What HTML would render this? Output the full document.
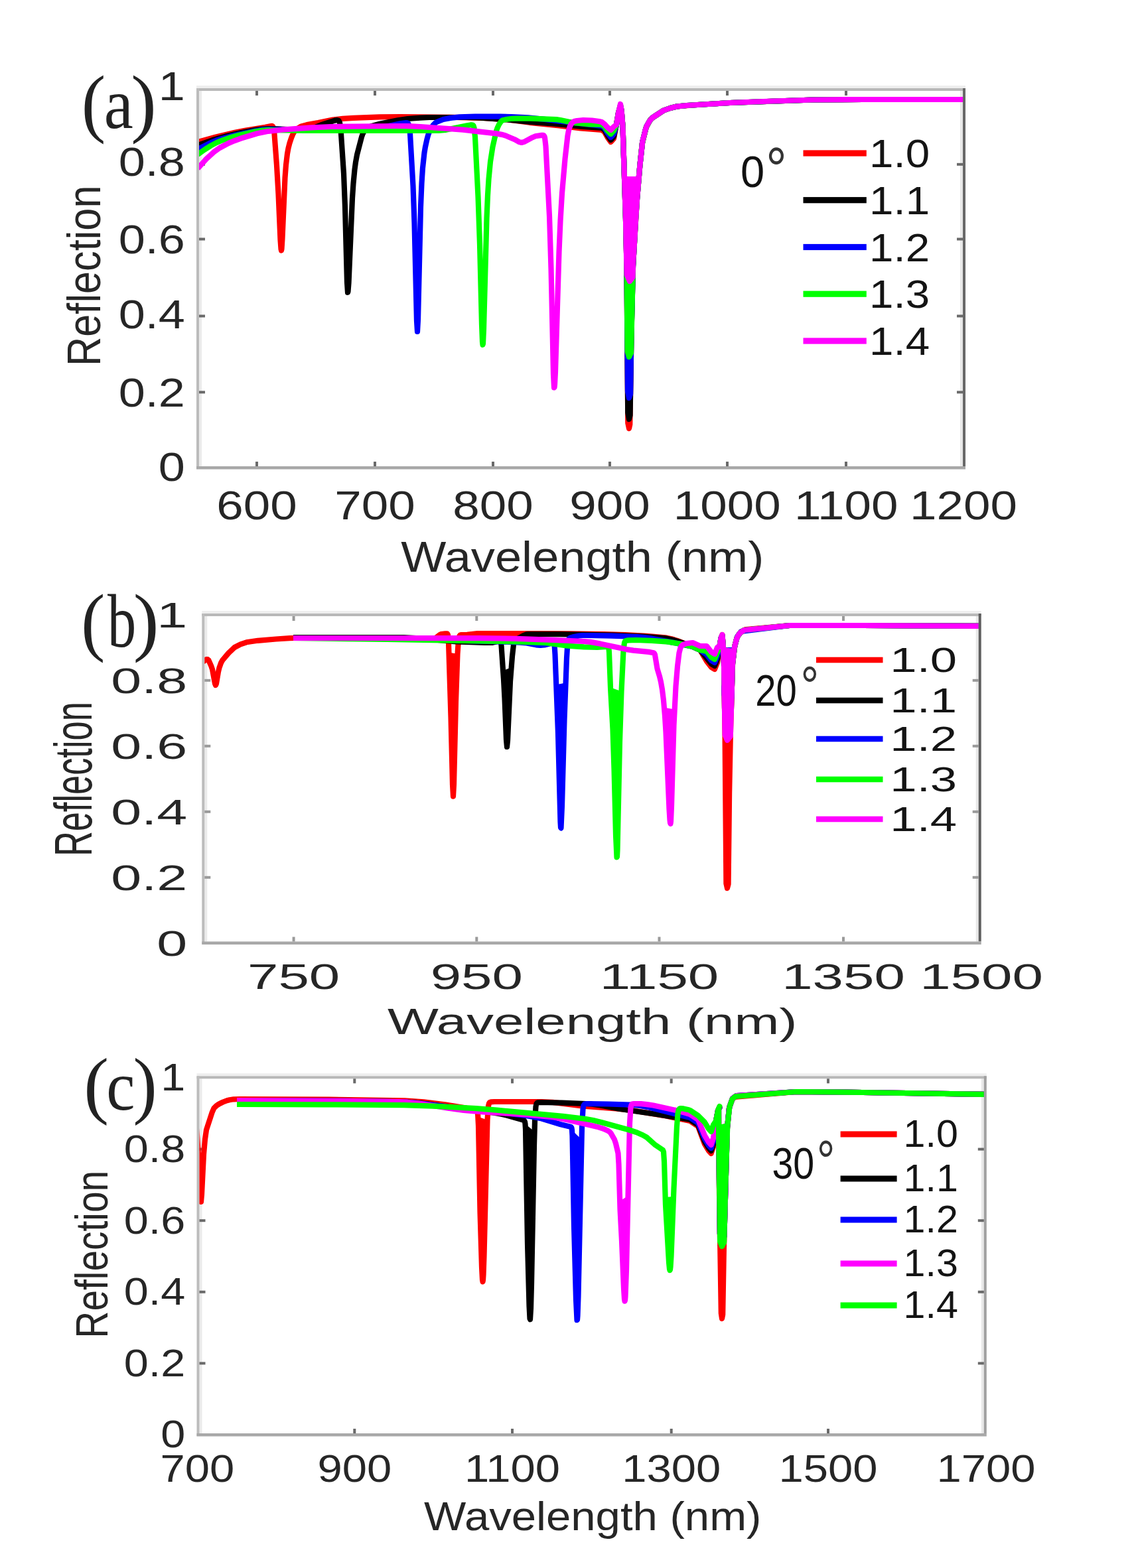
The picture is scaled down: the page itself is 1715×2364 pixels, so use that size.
<!DOCTYPE html>
<html><head><meta charset="utf-8"><title>Reflection spectra</title>
<style>html,body{margin:0;padding:0;background:#fff;overflow:hidden}svg{display:block}</style>
</head><body>
<svg width="1715" height="2364" viewBox="0 0 1715 2364">
<defs><clipPath id="cA"><rect x="300" y="137" width="1151" height="566"/></clipPath><clipPath id="cB"><rect x="308.3" y="929" width="1166.4" height="490.5"/></clipPath><clipPath id="cC"><rect x="300.5" y="1626.3" width="1182.3" height="534.7"/></clipPath></defs>
<rect width="1715" height="2364" fill="#ffffff"/>
<rect x="296" y="129" width="1159" height="4" fill="#eeeeee"/>
<rect x="300" y="137" width="4" height="566" fill="#ebebeb"/>
<rect x="1447" y="137" width="4" height="566" fill="#e8e8e8"/>
<rect x="296" y="133" width="1159" height="4" fill="#b8b8b8"/>
<rect x="296" y="133" width="4" height="574" fill="#bcbcbc"/>
<rect x="1451" y="133" width="4" height="570" fill="#686868"/>
<rect x="296" y="703" width="1159" height="4.5" fill="#a8a8a8"/>
<rect x="385.0" y="137" width="4" height="7" fill="#6a6a6a"/>
<rect x="385.0" y="696" width="4" height="7" fill="#6a6a6a"/>
<rect x="563.0" y="137" width="4" height="7" fill="#6a6a6a"/>
<rect x="563.0" y="696" width="4" height="7" fill="#6a6a6a"/>
<rect x="741.0" y="137" width="4" height="7" fill="#6a6a6a"/>
<rect x="741.0" y="696" width="4" height="7" fill="#6a6a6a"/>
<rect x="917.0" y="137" width="4" height="7" fill="#6a6a6a"/>
<rect x="917.0" y="696" width="4" height="7" fill="#6a6a6a"/>
<rect x="1094.0" y="137" width="4" height="7" fill="#6a6a6a"/>
<rect x="1094.0" y="696" width="4" height="7" fill="#6a6a6a"/>
<rect x="1273.0" y="137" width="4" height="7" fill="#6a6a6a"/>
<rect x="1273.0" y="696" width="4" height="7" fill="#6a6a6a"/>
<rect x="300" y="589.3" width="9" height="4" fill="#6a6a6a"/>
<rect x="1442" y="589.3" width="9" height="4" fill="#6a6a6a"/>
<rect x="300" y="474.5" width="9" height="4" fill="#6a6a6a"/>
<rect x="1442" y="474.5" width="9" height="4" fill="#6a6a6a"/>
<rect x="300" y="358.5" width="9" height="4" fill="#6a6a6a"/>
<rect x="1442" y="358.5" width="9" height="4" fill="#6a6a6a"/>
<rect x="300" y="245.8" width="9" height="4" fill="#6a6a6a"/>
<rect x="1442" y="245.8" width="9" height="4" fill="#6a6a6a"/>
<polyline points="298.0,214.0 325.5,206.4 355.0,199.6 370.5,196.5 399.5,191.8 408.5,190.0 410.0,189.9 411.0,190.4 412.5,194.5 413.5,202.0 417.0,249.2 419.5,292.4 422.5,361.6 423.5,375.5 424.0,377.5 424.5,375.3 425.5,359.4 429.5,268.1 431.0,248.4 433.0,231.7 434.5,223.5 436.5,215.6 439.0,208.1 441.5,202.0 443.5,198.6 445.5,196.3 450.0,192.7 454.0,190.4 462.5,188.1 479.5,185.1 501.5,180.5 516.5,178.9 533.0,177.9 572.0,176.4 603.0,176.0 685.5,176.8 728.5,178.0 765.5,180.5 798.0,184.8 840.5,189.1 875.0,193.5 907.0,196.0 911.0,199.0 915.5,207.0 920.5,214.0 925.0,209.0 932.0,170.0 935.0,160.0 936.5,166.0 938.5,190.0 943.0,330.0 944.5,402.0 946.3,638.0 948.0,646.0 949.3,640.0 951.5,500.0 954.0,400.0 960.0,300.0 964.5,248.0 967.9,216.0 973.8,192.0 980.4,180.0 985.6,176.0 1000.0,166.5 1010.0,163.0 1020.0,160.5 1050.0,158.0 1100.0,155.0 1225.0,150.5 1300.0,150.0 1458.0,150.0" fill="none" stroke="#ff0000" stroke-width="8.2" stroke-linejoin="round" stroke-linecap="butt" clip-path="url(#cA)"/>
<polygon points="940.9,266.0 943.0,330.0 944.5,402.0 946.3,638.0 948.0,646.0 949.3,640.0 951.5,500.0 954.0,400.0 958.1,328.0 962.7,268.0" fill="#ff0000" clip-path="url(#cA)"/>
<polyline points="298.0,219.0 320.0,211.3 342.5,204.8 360.5,200.5 383.5,196.1 394.5,194.5 403.5,194.0 417.5,194.3 450.0,195.8 462.5,195.8 469.5,194.1 483.5,188.5 504.5,181.6 508.0,181.0 510.5,181.9 512.0,184.8 513.5,194.5 518.0,261.2 520.0,312.1 523.0,425.6 524.0,441.0 524.5,439.5 525.5,426.8 531.0,298.7 532.5,276.5 534.5,255.6 536.0,244.5 538.0,233.4 545.0,206.5 546.5,202.2 548.5,198.4 551.0,195.6 554.5,192.9 559.5,190.2 572.0,186.7 599.5,181.2 614.5,179.0 633.5,177.6 647.0,177.0 703.0,177.0 723.5,177.6 764.5,180.3 799.0,183.9 839.0,186.9 877.5,190.8 907.0,193.0 911.0,196.0 915.5,204.0 920.5,211.0 925.0,206.0 929.0,188.0 932.0,170.0 935.0,160.0 936.5,166.0 938.5,190.0 943.0,330.0 944.5,402.0 946.2,622.0 948.0,632.0 949.6,626.0 951.5,502.0 954.0,402.0 958.0,330.0 960.2,298.0 964.3,250.0 968.2,214.0 973.2,194.0 974.6,190.0 979.2,182.0 982.5,178.0 1000.0,166.5 1010.0,163.0 1020.0,160.5 1035.0,159.0 1100.0,155.0 1225.0,150.5 1300.0,150.0 1458.0,150.0" fill="none" stroke="#000000" stroke-width="8.2" stroke-linejoin="round" stroke-linecap="butt" clip-path="url(#cA)"/>
<polygon points="940.9,266.0 943.0,330.0 944.5,402.0 946.2,622.0 948.0,632.0 949.6,626.0 951.5,502.0 954.0,402.0 958.0,330.0 962.8,266.0" fill="#000000" clip-path="url(#cA)"/>
<polyline points="298.0,225.0 317.5,215.2 326.0,211.7 334.0,209.1 354.5,203.8 385.5,197.2 395.0,195.6 405.0,195.0 456.5,196.0 552.5,195.9 564.5,194.4 603.0,186.3 612.0,185.1 614.0,185.3 615.0,185.8 616.5,189.2 618.0,201.2 622.5,280.2 624.5,336.0 628.0,483.8 629.0,499.9 630.0,481.9 634.0,311.9 635.5,276.3 637.0,253.2 639.5,230.2 641.0,221.3 643.5,209.9 645.5,202.7 648.0,196.0 650.5,191.7 653.5,187.9 656.0,185.4 658.0,184.0 668.0,180.0 679.0,177.9 692.5,176.4 716.0,175.7 753.5,175.5 770.5,176.0 796.0,177.4 820.5,179.8 907.0,190.0 911.0,193.0 915.5,200.5 920.5,207.0 925.0,202.0 929.0,188.0 932.0,170.0 935.0,159.0 936.5,166.0 938.5,190.0 943.0,330.0 944.5,402.0 946.0,590.0 948.0,600.0 950.1,594.0 951.5,498.0 954.0,402.0 958.0,330.0 960.2,298.0 964.3,250.0 968.2,214.0 973.2,194.0 974.6,190.0 979.2,182.0 982.5,178.0 1000.0,166.5 1010.0,163.0 1020.0,160.5 1035.0,159.0 1100.0,155.0 1225.0,150.5 1300.0,150.0 1458.0,150.0" fill="none" stroke="#0000ff" stroke-width="8.2" stroke-linejoin="round" stroke-linecap="butt" clip-path="url(#cA)"/>
<polygon points="940.9,266.0 943.0,330.0 944.5,402.0 946.0,590.0 948.0,600.0 950.1,594.0 951.5,498.0 954.1,398.0 958.0,330.0 962.8,266.0" fill="#0000ff" clip-path="url(#cA)"/>
<polyline points="298.0,233.0 308.5,225.5 318.0,219.5 326.5,215.0 335.5,211.3 347.5,207.2 360.0,203.8 384.5,198.3 396.0,196.5 405.0,196.0 458.0,197.0 661.0,197.0 672.0,195.8 704.0,189.2 710.0,188.2 712.5,188.5 713.5,189.6 714.5,192.7 716.0,206.6 720.5,296.7 723.0,368.4 726.0,489.4 727.0,515.3 727.5,519.8 728.0,517.9 729.0,496.1 733.5,328.9 735.0,294.5 736.5,270.2 739.0,243.8 742.5,221.4 747.5,199.1 749.5,193.0 752.0,187.7 755.0,183.2 757.5,181.2 764.5,179.8 772.0,178.8 779.5,178.5 800.0,178.7 838.5,180.1 844.5,181.0 863.5,184.9 888.5,187.3 907.0,188.0 911.0,191.0 915.5,197.0 920.5,202.0 925.0,197.0 929.0,188.0 932.0,170.0 935.0,158.0 936.5,166.0 938.5,190.0 943.0,330.0 944.5,398.0 945.6,530.0 948.0,538.0 951.0,532.0 954.0,400.0 960.0,300.0 964.5,248.0 967.9,216.0 973.8,192.0 980.4,180.0 985.6,176.0 1000.0,166.5 1010.0,163.0 1020.0,160.5 1035.0,159.0 1100.0,155.0 1225.0,150.5 1300.0,150.0 1458.0,150.0" fill="none" stroke="#00ff00" stroke-width="8.2" stroke-linejoin="round" stroke-linecap="butt" clip-path="url(#cA)"/>
<polygon points="940.9,266.0 943.0,330.0 944.5,398.0 945.6,530.0 948.0,538.0 951.0,532.0 954.0,400.0 958.1,328.0 962.7,268.0" fill="#00ff00" clip-path="url(#cA)"/>
<polyline points="298.0,254.0 311.0,239.6 322.0,229.4 331.0,223.0 344.5,215.9 353.0,212.3 362.5,208.8 387.5,201.3 402.0,198.3 424.5,195.7 469.5,192.4 498.5,191.0 598.0,190.0 615.0,190.2 633.5,191.0 697.5,195.6 748.0,201.4 757.5,203.1 762.0,204.5 775.5,210.2 782.5,214.1 786.0,215.0 790.0,213.9 802.5,207.2 807.0,205.3 816.5,203.9 818.5,203.9 819.5,204.3 820.5,205.8 821.0,207.5 822.5,220.2 828.0,325.6 830.5,404.9 834.0,564.3 835.0,584.4 835.5,584.1 836.0,579.6 837.0,560.2 842.5,379.7 844.5,333.0 847.0,291.4 851.5,239.8 855.5,204.4 857.0,196.6 858.5,191.6 860.5,187.4 863.5,183.9 865.0,183.1 869.5,182.0 879.0,181.0 892.0,181.5 903.0,183.0 907.0,184.0 911.0,187.0 915.5,192.0 920.5,196.0 925.0,191.0 929.0,188.0 932.0,170.0 935.0,157.0 936.5,166.0 938.5,190.0 943.0,330.0 944.6,414.0 949.0,424.0 953.5,418.0 954.1,398.0 959.9,302.0 964.3,250.0 968.2,214.0 973.2,194.0 974.6,190.0 979.2,182.0 982.5,178.0 1000.0,166.5 1010.0,163.0 1020.0,160.5 1035.0,159.0 1100.0,155.0 1150.0,153.0 1225.0,150.5 1300.0,150.0 1458.0,150.0" fill="none" stroke="#ff00ff" stroke-width="8.2" stroke-linejoin="round" stroke-linecap="butt" clip-path="url(#cA)"/>
<polygon points="940.9,266.0 943.0,330.0 944.6,414.0 949.0,424.0 953.5,418.0 954.1,398.0 958.0,330.0 962.8,266.0" fill="#ff00ff" clip-path="url(#cA)"/>
<text transform="matrix(1.09515 0 0 1.13609 122.75 192.66)" style="font-family:&quot;Liberation Serif&quot;,serif" font-size="100" fill="#222">(</text>
<text transform="matrix(0.99241 0 0 1.08333 156.73 192.92)" style="font-family:&quot;Liberation Serif&quot;,serif" font-size="100" fill="#222">a</text>
<text transform="matrix(1.15728 0 0 1.13609 197.24 192.66)" style="font-family:&quot;Liberation Serif&quot;,serif" font-size="100" fill="#222">)</text>
<text transform="matrix(0.72000 0 0 0.60700 278.90 725.18)" style="font-family:&quot;Liberation Sans&quot;,sans-serif" font-size="100" fill="#262626" text-anchor="end">0</text>
<text transform="matrix(0.72000 0 0 0.60700 278.90 612.68)" style="font-family:&quot;Liberation Sans&quot;,sans-serif" font-size="100" fill="#262626" text-anchor="end">0.2</text>
<text transform="matrix(0.72000 0 0 0.60700 278.90 494.88)" style="font-family:&quot;Liberation Sans&quot;,sans-serif" font-size="100" fill="#262626" text-anchor="end">0.4</text>
<text transform="matrix(0.72000 0 0 0.60700 278.90 381.88)" style="font-family:&quot;Liberation Sans&quot;,sans-serif" font-size="100" fill="#262626" text-anchor="end">0.6</text>
<text transform="matrix(0.72000 0 0 0.60700 278.90 264.88)" style="font-family:&quot;Liberation Sans&quot;,sans-serif" font-size="100" fill="#262626" text-anchor="end">0.8</text>
<text transform="matrix(0.72000 0 0 0.60700 278.90 150.88)" style="font-family:&quot;Liberation Sans&quot;,sans-serif" font-size="100" fill="#262626" text-anchor="end">1</text>
<text transform="matrix(0.72800 0 0 0.60700 387.00 782.88)" style="font-family:&quot;Liberation Sans&quot;,sans-serif" font-size="100" fill="#262626" text-anchor="middle">600</text>
<text transform="matrix(0.72800 0 0 0.60700 565.00 782.88)" style="font-family:&quot;Liberation Sans&quot;,sans-serif" font-size="100" fill="#262626" text-anchor="middle">700</text>
<text transform="matrix(0.72800 0 0 0.60700 743.00 782.88)" style="font-family:&quot;Liberation Sans&quot;,sans-serif" font-size="100" fill="#262626" text-anchor="middle">800</text>
<text transform="matrix(0.72800 0 0 0.60700 919.00 782.88)" style="font-family:&quot;Liberation Sans&quot;,sans-serif" font-size="100" fill="#262626" text-anchor="middle">900</text>
<text transform="matrix(0.72800 0 0 0.60700 1095.70 782.88)" style="font-family:&quot;Liberation Sans&quot;,sans-serif" font-size="100" fill="#262626" text-anchor="middle">1000</text>
<text transform="matrix(0.72800 0 0 0.60700 1275.30 782.88)" style="font-family:&quot;Liberation Sans&quot;,sans-serif" font-size="100" fill="#262626" text-anchor="middle">1100</text>
<text transform="matrix(0.72800 0 0 0.60700 1452.00 782.88)" style="font-family:&quot;Liberation Sans&quot;,sans-serif" font-size="100" fill="#262626" text-anchor="middle">1200</text>
<text transform="matrix(0 -0.61279 0.71020 0 150.89 551.96)" style="font-family:&quot;Liberation Sans&quot;,sans-serif" font-size="100" fill="#262626">Reflection</text>
<text transform="matrix(0.72200 0 0 0.64236 604.24 862.37)" style="font-family:&quot;Liberation Sans&quot;,sans-serif" font-size="100" fill="#262626">Wavelength (nm)</text>
<text transform="matrix(0.65131 0 0 0.65724 1115.89 282.34)" style="font-family:&quot;Liberation Sans&quot;,sans-serif" font-size="100" fill="#111">0</text>
<text transform="matrix(0.78571 0 0 0.90090 1154.29 285.84)" style="font-family:&quot;Liberation Sans&quot;,sans-serif" font-size="100" fill="#333">°</text>
<rect x="1210.5" y="226.4" width="95.3" height="9.2" fill="#ff0000"/>
<text transform="matrix(0.65500 0 0 0.60000 1310.09 252.04)" style="font-family:&quot;Liberation Sans&quot;,sans-serif" font-size="100" fill="#141414">1.0</text>
<rect x="1210.5" y="297.1" width="95.3" height="9.2" fill="#000000"/>
<text transform="matrix(0.65500 0 0 0.60000 1310.09 322.79)" style="font-family:&quot;Liberation Sans&quot;,sans-serif" font-size="100" fill="#141414">1.1</text>
<rect x="1210.5" y="367.9" width="95.3" height="9.2" fill="#0000ff"/>
<text transform="matrix(0.65500 0 0 0.60000 1310.09 393.54)" style="font-family:&quot;Liberation Sans&quot;,sans-serif" font-size="100" fill="#141414">1.2</text>
<rect x="1210.5" y="438.6" width="95.3" height="9.2" fill="#00ff00"/>
<text transform="matrix(0.65500 0 0 0.60000 1310.09 464.29)" style="font-family:&quot;Liberation Sans&quot;,sans-serif" font-size="100" fill="#141414">1.3</text>
<rect x="1210.5" y="509.4" width="95.3" height="9.2" fill="#ff00ff"/>
<text transform="matrix(0.65500 0 0 0.60000 1310.09 535.04)" style="font-family:&quot;Liberation Sans&quot;,sans-serif" font-size="100" fill="#141414">1.4</text>
<rect x="304.3" y="921" width="1174.4" height="4" fill="#eeeeee"/>
<rect x="308.3" y="929" width="4" height="490.5" fill="#ebebeb"/>
<rect x="1470.7" y="929" width="4" height="490.5" fill="#e8e8e8"/>
<rect x="304.3" y="925" width="1174.4" height="4" fill="#b8b8b8"/>
<rect x="304.3" y="925" width="4" height="498.5" fill="#bcbcbc"/>
<rect x="1474.7" y="925" width="4" height="494.5" fill="#5e5e5e"/>
<rect x="304.3" y="1419.5" width="1174.4" height="4.5" fill="#a8a8a8"/>
<rect x="440.6" y="929" width="4" height="7" fill="#9a9a9a"/>
<rect x="440.6" y="1412.5" width="4" height="7" fill="#9a9a9a"/>
<rect x="716.3" y="929" width="4" height="7" fill="#9a9a9a"/>
<rect x="716.3" y="1412.5" width="4" height="7" fill="#9a9a9a"/>
<rect x="991.5" y="929" width="4" height="7" fill="#9a9a9a"/>
<rect x="991.5" y="1412.5" width="4" height="7" fill="#9a9a9a"/>
<rect x="1269.0" y="929" width="4" height="7" fill="#9a9a9a"/>
<rect x="1269.0" y="1412.5" width="4" height="7" fill="#9a9a9a"/>
<rect x="308.3" y="1320.8" width="9" height="4" fill="#9a9a9a"/>
<rect x="1465.7" y="1320.8" width="9" height="4" fill="#9a9a9a"/>
<rect x="308.3" y="1221.8" width="9" height="4" fill="#9a9a9a"/>
<rect x="1465.7" y="1221.8" width="9" height="4" fill="#9a9a9a"/>
<rect x="308.3" y="1122.8" width="9" height="4" fill="#9a9a9a"/>
<rect x="1465.7" y="1122.8" width="9" height="4" fill="#9a9a9a"/>
<rect x="308.3" y="1023.8" width="9" height="4" fill="#9a9a9a"/>
<rect x="1465.7" y="1023.8" width="9" height="4" fill="#9a9a9a"/>
<polyline points="306.0,998.0 309.0,995.3 311.0,994.2 313.0,994.2 314.5,995.6 318.5,1004.7 320.0,1009.3 324.0,1030.7 325.0,1033.0 326.0,1030.6 329.0,1012.9 330.5,1006.6 333.0,999.6 335.5,995.1 344.5,984.5 353.5,976.0 362.5,971.3 371.5,968.3 388.5,965.8 416.0,963.5 436.5,962.2 463.0,961.5 505.0,961.0 587.5,962.0 655.0,962.0 657.5,961.1 662.5,957.1 664.5,956.1 671.0,955.3 674.0,955.3 675.0,957.0 676.0,968.8 679.5,1080.9 682.0,1183.1 683.0,1200.6 684.0,1182.8 687.0,1058.2 689.5,985.8 691.0,964.5 692.0,959.6 693.5,957.5 695.5,957.0 704.0,956.8 719.5,955.0 811.5,955.0 860.0,955.4 910.5,956.2 942.5,957.2 974.5,958.9 1002.5,961.3 1012.0,963.2 1022.5,966.5 1044.0,975.0 1055.0,980.0 1065.0,997.0 1072.0,1006.0 1077.0,1009.0 1081.0,999.0 1086.5,962.0 1088.5,957.0 1090.0,976.0 1091.0,1000.0 1092.5,1100.0 1094.4,1332.0 1096.0,1339.0 1097.6,1333.0 1099.1,1197.0 1101.0,1101.0 1104.0,1001.0 1106.8,977.0 1107.5,973.0 1110.7,961.0 1116.2,953.0 1123.8,949.0 1190.0,943.0 1300.0,943.0 1480.0,944.0" fill="none" stroke="#ff0000" stroke-width="8.2" stroke-linejoin="round" stroke-linecap="butt" clip-path="url(#cB)"/>
<polygon points="676.5,983.8 679.5,1080.9 682.0,1183.1 683.0,1200.6 684.0,1182.8 687.0,1058.2 689.5,985.8" fill="#ff0000" clip-path="url(#cB)"/>
<polygon points="1090.0,976.0 1091.0,1000.0 1092.5,1100.0 1094.4,1332.0 1096.0,1339.0 1097.6,1333.0 1099.0,1201.0 1101.1,1097.0 1104.0,1001.0 1106.8,977.0" fill="#ff0000" clip-path="url(#cB)"/>
<polyline points="442.0,961.0 608.5,961.1 631.5,962.4 688.0,967.4 730.0,968.9 741.5,968.9 752.0,966.5 754.0,966.5 755.0,968.9 755.5,973.2 759.0,1024.4 760.5,1052.6 763.0,1115.6 764.0,1126.0 765.0,1116.5 769.0,1027.3 772.0,989.4 774.0,971.6 775.0,967.5 776.0,965.6 777.0,964.7 789.0,958.1 793.5,956.3 796.0,956.0 843.5,956.2 925.5,957.6 970.0,959.6 993.5,961.4 1005.5,962.7 1015.0,964.9 1026.0,968.3 1044.0,975.0 1055.0,980.0 1072.0,1001.0 1077.0,1004.0 1081.0,994.0 1086.5,962.0 1088.5,958.0 1090.0,976.0 1091.0,1000.0 1092.0,1068.0 1096.0,1076.0 1101.9,1070.0 1103.9,1002.0 1107.3,974.0 1110.5,962.0 1112.5,958.0 1115.5,954.0 1121.5,950.0 1190.0,943.0 1300.0,943.0 1480.0,944.0" fill="none" stroke="#000000" stroke-width="8.2" stroke-linejoin="round" stroke-linecap="butt" clip-path="url(#cB)"/>
<polygon points="758.0,1011.0 760.0,1041.9 763.0,1115.6 764.0,1126.0 765.0,1116.5 768.0,1045.5 770.5,1006.6" fill="#000000" clip-path="url(#cB)"/>
<polygon points="1090.0,976.0 1091.0,1000.0 1092.0,1068.0 1096.0,1076.0 1101.9,1070.0 1103.9,1002.0 1106.6,978.0" fill="#000000" clip-path="url(#cB)"/>
<polyline points="442.0,962.0 601.0,962.0 621.0,962.3 697.5,965.9 759.0,967.6 784.0,968.6 793.5,969.4 808.0,972.3 814.5,973.0 820.5,972.4 834.5,969.1 835.5,971.4 836.5,986.7 841.0,1105.1 844.5,1239.2 845.0,1247.6 845.5,1248.4 847.0,1214.5 850.5,1085.2 854.0,992.3 855.0,975.9 856.0,967.5 857.0,963.9 858.0,962.5 859.0,961.8 865.0,960.0 872.5,958.5 878.0,958.0 886.0,958.0 921.5,958.6 959.5,960.0 969.0,960.8 980.0,962.4 1016.5,969.1 1044.0,975.0 1055.0,980.0 1065.0,987.0 1072.0,996.0 1077.0,999.0 1081.0,989.0 1084.5,975.0 1086.5,962.0 1088.5,958.0 1090.0,976.0 1091.0,1000.0 1091.7,1048.0 1096.0,1058.0 1102.4,1052.0 1104.0,1000.0 1106.9,976.0 1111.0,960.0 1117.0,952.0 1190.0,943.0 1300.0,943.0 1480.0,944.0" fill="none" stroke="#0000ff" stroke-width="8.2" stroke-linejoin="round" stroke-linecap="butt" clip-path="url(#cB)"/>
<polygon points="838.0,1032.2 841.0,1105.1 844.5,1239.2 845.0,1247.6 845.5,1248.4 846.5,1230.6 850.0,1100.9 852.5,1029.5" fill="#0000ff" clip-path="url(#cB)"/>
<polygon points="1090.0,976.0 1091.0,1000.0 1091.7,1048.0 1096.0,1058.0 1102.4,1052.0 1104.0,1000.0 1106.9,976.0" fill="#0000ff" clip-path="url(#cB)"/>
<polyline points="442.0,962.0 583.0,963.9 783.0,967.6 823.5,969.2 855.5,973.6 880.0,975.4 900.0,976.0 915.0,975.0 916.5,975.3 917.5,978.2 918.0,983.6 920.0,1036.5 923.5,1099.4 925.5,1159.9 928.0,1258.8 929.5,1292.3 930.0,1291.5 930.5,1281.5 934.0,1117.8 936.5,1042.3 939.5,980.8 941.0,969.2 942.0,966.8 943.0,966.0 946.5,965.4 958.5,965.0 982.5,965.8 1007.0,967.7 1027.0,971.0 1044.0,975.0 1055.0,980.0 1065.0,982.0 1072.0,991.0 1077.0,994.0 1084.5,975.0 1086.5,962.0 1088.5,958.0 1090.0,976.0 1091.0,1000.0 1091.5,1032.0 1096.0,1040.0 1103.0,1034.0 1104.2,998.0 1107.3,974.0 1110.5,962.0 1112.5,958.0 1115.5,954.0 1121.5,950.0 1190.0,943.0 1300.0,943.0 1480.0,944.0" fill="none" stroke="#00ff00" stroke-width="8.2" stroke-linejoin="round" stroke-linecap="butt" clip-path="url(#cB)"/>
<polygon points="920.0,1036.5 922.5,1077.7 924.0,1112.2 928.0,1258.8 929.5,1292.3 930.0,1291.5 930.5,1281.5 934.0,1117.8 936.5,1042.3" fill="#00ff00" clip-path="url(#cB)"/>
<polygon points="1090.0,976.0 1091.0,1000.0 1091.5,1032.0 1096.0,1040.0 1103.0,1034.0 1103.9,1002.0 1106.6,978.0" fill="#00ff00" clip-path="url(#cB)"/>
<polyline points="442.0,962.0 722.0,962.1 777.0,962.9 833.0,964.8 880.0,967.0 889.5,967.9 904.0,970.4 944.5,979.1 954.5,980.6 977.5,982.9 985.0,984.2 986.0,985.0 987.0,987.1 990.5,1008.1 994.0,1019.8 996.0,1028.2 998.0,1039.7 1000.0,1056.0 1002.0,1079.5 1003.5,1103.7 1008.5,1220.1 1009.5,1236.3 1010.0,1240.6 1010.5,1241.9 1011.0,1238.4 1012.0,1214.8 1015.5,1093.5 1018.5,1034.6 1021.0,1004.6 1023.5,984.2 1025.5,976.5 1027.0,973.9 1029.0,972.2 1034.5,970.1 1044.0,969.0 1055.0,974.0 1065.0,974.0 1072.0,983.0 1077.0,986.0 1081.0,976.0 1084.5,975.0 1086.5,962.0 1088.5,957.0 1090.0,976.0 1091.0,1000.0 1092.6,1108.0 1096.0,1116.0 1100.8,1110.0 1103.9,1002.0 1106.6,978.0 1107.3,974.0 1110.5,962.0 1112.5,958.0 1115.5,954.0 1121.5,950.0 1190.0,943.0 1300.0,943.0 1480.0,944.0" fill="none" stroke="#ff00ff" stroke-width="8.2" stroke-linejoin="round" stroke-linecap="butt" clip-path="url(#cB)"/>
<polygon points="1001.0,1066.7 1004.0,1113.2 1008.5,1220.1 1009.5,1236.3 1010.0,1240.6 1010.5,1241.9 1011.0,1238.4 1012.0,1214.8 1014.5,1123.5 1016.5,1069.4" fill="#ff00ff" clip-path="url(#cB)"/>
<polygon points="1090.0,976.0 1091.0,1000.0 1092.6,1108.0 1096.0,1116.0 1100.8,1110.0 1103.9,1002.0 1106.6,978.0" fill="#ff00ff" clip-path="url(#cB)"/>
<text transform="matrix(1.08350 0 0 1.14270 122.30 975.22)" style="font-family:&quot;Liberation Serif&quot;,serif" font-size="100" fill="#222">(</text>
<text transform="matrix(0.86270 0 0 1.14043 162.10 975.06)" style="font-family:&quot;Liberation Serif&quot;,serif" font-size="100" fill="#222">b</text>
<text transform="matrix(1.16505 0 0 1.14270 200.71 975.22)" style="font-family:&quot;Liberation Serif&quot;,serif" font-size="100" fill="#222">)</text>
<text transform="matrix(0.82600 0 0 0.53000 282.10 1441.03)" style="font-family:&quot;Liberation Sans&quot;,sans-serif" font-size="100" fill="#262626" text-anchor="end">0</text>
<text transform="matrix(0.82600 0 0 0.53000 282.10 1342.03)" style="font-family:&quot;Liberation Sans&quot;,sans-serif" font-size="100" fill="#262626" text-anchor="end">0.2</text>
<text transform="matrix(0.82600 0 0 0.53000 282.10 1243.03)" style="font-family:&quot;Liberation Sans&quot;,sans-serif" font-size="100" fill="#262626" text-anchor="end">0.4</text>
<text transform="matrix(0.82600 0 0 0.53000 282.10 1144.03)" style="font-family:&quot;Liberation Sans&quot;,sans-serif" font-size="100" fill="#262626" text-anchor="end">0.6</text>
<text transform="matrix(0.82600 0 0 0.53000 282.10 1045.03)" style="font-family:&quot;Liberation Sans&quot;,sans-serif" font-size="100" fill="#262626" text-anchor="end">0.8</text>
<text transform="matrix(0.82600 0 0 0.53000 282.10 946.03)" style="font-family:&quot;Liberation Sans&quot;,sans-serif" font-size="100" fill="#262626" text-anchor="end">1</text>
<text transform="matrix(0.83500 0 0 0.53700 442.60 1490.97)" style="font-family:&quot;Liberation Sans&quot;,sans-serif" font-size="100" fill="#262626" text-anchor="middle">750</text>
<text transform="matrix(0.83500 0 0 0.53700 718.30 1490.97)" style="font-family:&quot;Liberation Sans&quot;,sans-serif" font-size="100" fill="#262626" text-anchor="middle">950</text>
<text transform="matrix(0.83500 0 0 0.53700 993.50 1490.97)" style="font-family:&quot;Liberation Sans&quot;,sans-serif" font-size="100" fill="#262626" text-anchor="middle">1150</text>
<text transform="matrix(0.83500 0 0 0.53700 1271.00 1490.97)" style="font-family:&quot;Liberation Sans&quot;,sans-serif" font-size="100" fill="#262626" text-anchor="middle">1350</text>
<text transform="matrix(0.83500 0 0 0.53700 1479.00 1490.97)" style="font-family:&quot;Liberation Sans&quot;,sans-serif" font-size="100" fill="#262626" text-anchor="middle">1500</text>
<text transform="matrix(0 -0.52395 0.80272 0 138.20 1291.12)" style="font-family:&quot;Liberation Sans&quot;,sans-serif" font-size="100" fill="#262626">Reflection</text>
<text transform="matrix(0.81531 0 0 0.56300 583.89 1558.82)" style="font-family:&quot;Liberation Sans&quot;,sans-serif" font-size="100" fill="#262626">Wavelength (nm)</text>
<text transform="matrix(0.56235 0 0 0.66431 1138.19 1064.34)" style="font-family:&quot;Liberation Sans&quot;,sans-serif" font-size="100" fill="#111">20</text>
<text transform="matrix(0.69286 0 0 0.83243 1206.44 1062.66)" style="font-family:&quot;Liberation Sans&quot;,sans-serif" font-size="100" fill="#333">°</text>
<rect x="1230" y="990.7" width="100.5" height="8.6" fill="#ff0000"/>
<text transform="matrix(0.72500 0 0 0.52000 1341.36 1013.09)" style="font-family:&quot;Liberation Sans&quot;,sans-serif" font-size="100" fill="#141414">1.0</text>
<rect x="1230" y="1051.7" width="100.5" height="8.6" fill="#000000"/>
<text transform="matrix(0.72500 0 0 0.52000 1341.36 1074.09)" style="font-family:&quot;Liberation Sans&quot;,sans-serif" font-size="100" fill="#141414">1.1</text>
<rect x="1230" y="1109.7" width="100.5" height="8.6" fill="#0000ff"/>
<text transform="matrix(0.72500 0 0 0.52000 1341.36 1132.09)" style="font-family:&quot;Liberation Sans&quot;,sans-serif" font-size="100" fill="#141414">1.2</text>
<rect x="1230" y="1170.7" width="100.5" height="8.6" fill="#00ff00"/>
<text transform="matrix(0.72500 0 0 0.52000 1341.36 1193.09)" style="font-family:&quot;Liberation Sans&quot;,sans-serif" font-size="100" fill="#141414">1.3</text>
<rect x="1230" y="1230.7" width="100.5" height="8.6" fill="#ff00ff"/>
<text transform="matrix(0.72500 0 0 0.52000 1341.36 1253.09)" style="font-family:&quot;Liberation Sans&quot;,sans-serif" font-size="100" fill="#141414">1.4</text>
<rect x="296.5" y="1618.3" width="1190.3" height="4" fill="#eeeeee"/>
<rect x="300.5" y="1626.3" width="4" height="534.7" fill="#ebebeb"/>
<rect x="1478.8" y="1626.3" width="4" height="534.7" fill="#e8e8e8"/>
<rect x="296.5" y="1622.3" width="1190.3" height="4" fill="#b8b8b8"/>
<rect x="296.5" y="1622.3" width="4" height="542.7" fill="#bcbcbc"/>
<rect x="1482.8" y="1622.3" width="4" height="538.7" fill="#a0a0a0"/>
<rect x="296.5" y="2161" width="1190.3" height="4.5" fill="#a8a8a8"/>
<rect x="532.3" y="1626.3" width="4" height="7" fill="#6a6a6a"/>
<rect x="532.3" y="2154" width="4" height="7" fill="#6a6a6a"/>
<rect x="770.0" y="1626.3" width="4" height="7" fill="#6a6a6a"/>
<rect x="770.0" y="2154" width="4" height="7" fill="#6a6a6a"/>
<rect x="1009.7" y="1626.3" width="4" height="7" fill="#6a6a6a"/>
<rect x="1009.7" y="2154" width="4" height="7" fill="#6a6a6a"/>
<rect x="1246.0" y="1626.3" width="4" height="7" fill="#6a6a6a"/>
<rect x="1246.0" y="2154" width="4" height="7" fill="#6a6a6a"/>
<rect x="300.5" y="2053.4" width="9" height="4" fill="#6a6a6a"/>
<rect x="1473.8" y="2053.4" width="9" height="4" fill="#6a6a6a"/>
<rect x="300.5" y="1945.8" width="9" height="4" fill="#6a6a6a"/>
<rect x="1473.8" y="1945.8" width="9" height="4" fill="#6a6a6a"/>
<rect x="300.5" y="1838.2" width="9" height="4" fill="#6a6a6a"/>
<rect x="1473.8" y="1838.2" width="9" height="4" fill="#6a6a6a"/>
<rect x="300.5" y="1730.6" width="9" height="4" fill="#6a6a6a"/>
<rect x="1473.8" y="1730.6" width="9" height="4" fill="#6a6a6a"/>
<polyline points="296.0,1702.0 297.0,1712.0 299.5,1748.8 302.0,1801.1 303.0,1811.9 304.0,1800.9 307.0,1740.2 309.0,1717.6 311.0,1703.6 319.5,1677.4 322.5,1670.6 326.0,1667.2 330.0,1664.5 335.5,1661.8 342.0,1659.2 346.0,1658.2 352.0,1657.3 361.5,1657.0 496.0,1657.6 610.0,1659.3 638.5,1661.4 670.5,1665.3 701.0,1670.2 713.5,1674.0 718.5,1675.1 719.5,1676.1 720.0,1678.1 721.0,1697.2 723.5,1827.9 726.0,1910.3 727.0,1929.6 727.5,1932.4 728.0,1929.8 728.5,1922.0 729.5,1893.5 734.5,1688.4 736.0,1667.6 737.0,1663.6 738.0,1662.1 740.0,1661.3 745.0,1661.0 816.5,1661.0 833.0,1661.9 879.0,1667.6 928.5,1671.4 952.0,1674.0 999.0,1681.6 1040.0,1690.0 1052.0,1698.0 1062.0,1725.0 1068.0,1735.0 1071.7,1739.0 1075.0,1729.0 1079.0,1690.0 1082.0,1674.0 1084.4,1670.0 1083.0,1672.0 1084.0,1800.0 1086.8,1980.0 1088.0,1988.0 1089.2,1982.0 1091.0,1878.0 1095.9,1702.0 1099.0,1670.0 1103.3,1658.0 1106.8,1654.0 1200.0,1646.0 1300.0,1647.0 1490.0,1650.0" fill="none" stroke="#ff0000" stroke-width="8.2" stroke-linejoin="round" stroke-linecap="butt" clip-path="url(#cC)"/>
<polygon points="720.5,1683.7 723.5,1827.9 726.0,1910.3 727.0,1929.6 727.5,1932.4 728.0,1929.8 728.5,1922.0 729.5,1893.5 734.5,1688.4" fill="#ff0000" clip-path="url(#cC)"/>
<polygon points="1083.0,1696.0 1084.0,1800.0 1086.8,1980.0 1088.0,1988.0 1089.2,1982.0 1091.0,1882.0 1093.0,1802.0 1095.9,1702.0 1096.6,1694.0" fill="#ff0000" clip-path="url(#cC)"/>
<polyline points="357.0,1659.0 515.5,1659.8 600.5,1661.0 617.5,1661.8 646.0,1664.7 744.5,1677.7 754.5,1679.5 763.5,1681.6 786.5,1688.1 790.0,1689.6 791.0,1691.3 791.5,1694.4 792.0,1702.5 795.0,1875.3 797.5,1968.7 798.5,1988.0 799.0,1989.2 800.0,1972.8 801.0,1935.7 805.0,1726.5 806.0,1690.4 807.5,1668.1 808.5,1664.0 810.0,1662.4 815.5,1662.0 847.0,1662.6 883.0,1664.0 892.0,1664.7 904.5,1666.5 933.0,1671.7 990.0,1680.0 1040.0,1688.0 1052.0,1696.0 1062.0,1721.0 1068.0,1731.0 1071.7,1735.0 1075.0,1725.0 1079.0,1690.0 1082.0,1674.0 1084.4,1670.0 1083.0,1672.0 1083.0,1700.0 1084.9,1860.0 1088.0,1870.0 1091.4,1864.0 1096.0,1700.0 1098.8,1672.0 1099.7,1668.0 1104.0,1656.0 1109.6,1652.0 1200.0,1646.0 1300.0,1647.0 1490.0,1650.0" fill="none" stroke="#000000" stroke-width="8.2" stroke-linejoin="round" stroke-linecap="butt" clip-path="url(#cC)"/>
<polygon points="791.5,1694.4 792.5,1721.2 794.0,1827.1 796.0,1915.3 797.5,1968.7 798.5,1988.0 799.0,1989.2 800.0,1972.8 801.0,1935.7 805.5,1706.0" fill="#000000" clip-path="url(#cC)"/>
<polygon points="1083.0,1696.0 1084.9,1860.0 1088.0,1870.0 1091.4,1864.0 1093.0,1800.0 1096.0,1700.0 1096.4,1696.0" fill="#000000" clip-path="url(#cC)"/>
<polyline points="357.0,1659.0 525.0,1659.9 601.5,1661.0 620.0,1662.0 643.5,1664.5 697.0,1671.7 765.5,1678.6 797.0,1682.7 814.0,1685.9 845.0,1695.2 860.5,1698.9 861.5,1700.6 862.0,1703.9 862.5,1712.5 865.0,1848.2 868.0,1958.8 869.5,1990.2 870.0,1990.0 870.5,1983.6 871.5,1954.6 877.0,1700.4 878.5,1672.4 879.5,1666.8 881.0,1664.5 885.0,1664.0 916.5,1664.5 950.0,1665.7 963.0,1666.6 978.0,1669.5 1040.0,1685.0 1052.0,1693.0 1062.0,1717.0 1068.0,1727.0 1071.7,1731.0 1075.0,1721.0 1079.0,1690.0 1082.0,1674.0 1084.4,1670.0 1083.0,1672.0 1083.0,1700.0 1084.9,1860.0 1088.0,1870.0 1091.4,1864.0 1096.0,1700.0 1098.8,1672.0 1099.7,1668.0 1104.0,1656.0 1109.6,1652.0 1200.0,1646.0 1300.0,1647.0 1490.0,1650.0" fill="none" stroke="#0000ff" stroke-width="8.2" stroke-linejoin="round" stroke-linecap="butt" clip-path="url(#cC)"/>
<polygon points="862.0,1703.9 863.0,1731.6 865.5,1867.5 868.0,1958.8 869.5,1990.2 870.0,1990.0 870.5,1983.6 871.5,1954.6 876.5,1718.0" fill="#0000ff" clip-path="url(#cC)"/>
<polygon points="1083.0,1696.0 1084.9,1860.0 1088.0,1870.0 1091.4,1864.0 1093.0,1800.0 1096.0,1700.0 1096.4,1696.0" fill="#0000ff" clip-path="url(#cC)"/>
<polyline points="357.0,1659.0 513.5,1659.8 600.5,1661.0 614.0,1661.7 634.5,1664.1 679.0,1671.3 698.5,1673.9 727.5,1676.3 798.5,1680.8 835.0,1684.5 856.0,1688.4 899.5,1698.7 908.0,1701.3 915.0,1704.3 918.5,1706.3 920.5,1708.4 926.0,1718.0 928.0,1724.0 931.5,1738.8 932.5,1755.3 934.5,1823.2 937.0,1871.0 940.0,1942.7 941.0,1958.6 941.5,1961.6 942.0,1960.4 942.5,1954.7 944.0,1914.4 949.0,1693.2 950.5,1670.0 951.5,1665.9 952.5,1664.6 955.5,1664.0 966.0,1664.2 975.0,1665.1 984.5,1666.5 1021.5,1674.6 1040.0,1680.0 1052.0,1688.0 1062.0,1712.0 1068.0,1722.0 1071.7,1726.0 1075.0,1716.0 1079.0,1690.0 1082.0,1674.0 1084.4,1669.0 1083.0,1672.0 1083.0,1700.0 1084.9,1860.0 1088.0,1870.0 1091.4,1864.0 1096.0,1700.0 1098.8,1672.0 1099.7,1668.0 1104.0,1656.0 1109.6,1652.0 1200.0,1646.0 1300.0,1647.0 1490.0,1650.0" fill="none" stroke="#ff00ff" stroke-width="8.2" stroke-linejoin="round" stroke-linecap="butt" clip-path="url(#cC)"/>
<polygon points="934.0,1810.8 937.0,1871.0 940.0,1942.7 941.0,1958.6 941.5,1961.6 942.0,1960.4 942.5,1954.7 943.5,1931.2 946.5,1802.9" fill="#ff00ff" clip-path="url(#cC)"/>
<polygon points="1083.0,1696.0 1084.9,1860.0 1088.0,1870.0 1091.4,1864.0 1093.0,1800.0 1096.0,1700.0 1096.4,1696.0" fill="#ff00ff" clip-path="url(#cC)"/>
<polyline points="357.0,1665.0 488.5,1665.3 609.0,1666.1 653.5,1667.6 717.5,1671.1 748.5,1673.6 848.0,1682.8 883.0,1687.0 894.0,1689.0 907.0,1692.2 948.0,1703.5 960.5,1707.7 968.5,1711.2 974.5,1714.6 987.5,1726.2 999.0,1733.9 1000.0,1736.4 1001.0,1751.2 1003.0,1816.6 1008.0,1903.0 1009.0,1913.4 1009.5,1915.1 1010.0,1914.0 1010.5,1910.0 1011.5,1894.1 1015.5,1792.0 1020.0,1698.5 1021.5,1679.1 1022.5,1674.0 1024.0,1671.6 1026.0,1671.1 1030.0,1671.4 1038.0,1673.2 1040.0,1674.0 1052.0,1682.0 1062.0,1692.0 1068.0,1702.0 1071.7,1706.0 1075.0,1696.0 1079.0,1690.0 1082.0,1674.0 1084.4,1668.0 1083.0,1672.0 1083.0,1700.0 1085.1,1872.0 1088.0,1879.0 1091.2,1873.0 1093.1,1797.0 1096.3,1697.0 1099.4,1669.0 1103.6,1657.0 1108.2,1653.0 1200.0,1646.0 1300.0,1647.0 1490.0,1650.0" fill="none" stroke="#00ff00" stroke-width="8.2" stroke-linejoin="round" stroke-linecap="butt" clip-path="url(#cC)"/>
<polygon points="1002.5,1804.9 1007.5,1895.4 1008.5,1909.2 1009.5,1915.1 1010.0,1914.0 1010.5,1910.0 1011.5,1894.1 1015.0,1804.1" fill="#00ff00" clip-path="url(#cC)"/>
<polygon points="1083.0,1696.0 1085.1,1872.0 1088.0,1879.0 1091.2,1873.0 1096.0,1701.0 1096.7,1693.0" fill="#00ff00" clip-path="url(#cC)"/>
<text transform="matrix(1.13398 0 0 1.12507 126.18 1672.79)" style="font-family:&quot;Liberation Serif&quot;,serif" font-size="100" fill="#222">(</text>
<text transform="matrix(0.97333 0 0 1.06250 160.25 1672.54)" style="font-family:&quot;Liberation Serif&quot;,serif" font-size="100" fill="#222">c</text>
<text transform="matrix(1.08738 0 0 1.12507 200.47 1672.79)" style="font-family:&quot;Liberation Serif&quot;,serif" font-size="100" fill="#222">)</text>
<text transform="matrix(0.66600 0 0 0.56500 279.30 2182.44)" style="font-family:&quot;Liberation Sans&quot;,sans-serif" font-size="100" fill="#262626" text-anchor="end">0</text>
<text transform="matrix(0.66600 0 0 0.56500 279.30 2074.84)" style="font-family:&quot;Liberation Sans&quot;,sans-serif" font-size="100" fill="#262626" text-anchor="end">0.2</text>
<text transform="matrix(0.66600 0 0 0.56500 279.30 1967.24)" style="font-family:&quot;Liberation Sans&quot;,sans-serif" font-size="100" fill="#262626" text-anchor="end">0.4</text>
<text transform="matrix(0.66600 0 0 0.56500 279.30 1859.64)" style="font-family:&quot;Liberation Sans&quot;,sans-serif" font-size="100" fill="#262626" text-anchor="end">0.6</text>
<text transform="matrix(0.66600 0 0 0.56500 279.30 1752.04)" style="font-family:&quot;Liberation Sans&quot;,sans-serif" font-size="100" fill="#262626" text-anchor="end">0.8</text>
<text transform="matrix(0.66600 0 0 0.56500 279.30 1644.44)" style="font-family:&quot;Liberation Sans&quot;,sans-serif" font-size="100" fill="#262626" text-anchor="end">1</text>
<text transform="matrix(0.67000 0 0 0.56500 297.30 2233.74)" style="font-family:&quot;Liberation Sans&quot;,sans-serif" font-size="100" fill="#262626" text-anchor="middle">700</text>
<text transform="matrix(0.67000 0 0 0.56500 534.30 2233.74)" style="font-family:&quot;Liberation Sans&quot;,sans-serif" font-size="100" fill="#262626" text-anchor="middle">900</text>
<text transform="matrix(0.67000 0 0 0.56500 772.00 2233.74)" style="font-family:&quot;Liberation Sans&quot;,sans-serif" font-size="100" fill="#262626" text-anchor="middle">1100</text>
<text transform="matrix(0.67000 0 0 0.56500 1011.70 2233.74)" style="font-family:&quot;Liberation Sans&quot;,sans-serif" font-size="100" fill="#262626" text-anchor="middle">1300</text>
<text transform="matrix(0.67000 0 0 0.56500 1248.00 2233.74)" style="font-family:&quot;Liberation Sans&quot;,sans-serif" font-size="100" fill="#262626" text-anchor="middle">1500</text>
<text transform="matrix(0.67000 0 0 0.56500 1486.00 2233.74)" style="font-family:&quot;Liberation Sans&quot;,sans-serif" font-size="100" fill="#262626" text-anchor="middle">1700</text>
<text transform="matrix(0 -0.56884 0.69388 0 162.11 2017.69)" style="font-family:&quot;Liberation Sans&quot;,sans-serif" font-size="100" fill="#262626">Reflection</text>
<text transform="matrix(0.67115 0 0 0.60697 639.06 2307.41)" style="font-family:&quot;Liberation Sans&quot;,sans-serif" font-size="100" fill="#262626">Wavelength (nm)</text>
<text transform="matrix(0.57391 0 0 0.67138 1163.45 1776.83)" style="font-family:&quot;Liberation Sans&quot;,sans-serif" font-size="100" fill="#111">30</text>
<text transform="matrix(0.69286 0 0 0.87568 1230.84 1781.48)" style="font-family:&quot;Liberation Sans&quot;,sans-serif" font-size="100" fill="#333">°</text>
<rect x="1266.6" y="1705.5" width="85" height="9" fill="#ff0000"/>
<text transform="matrix(0.59200 0 0 0.56500 1361.56 1729.44)" style="font-family:&quot;Liberation Sans&quot;,sans-serif" font-size="100" fill="#141414">1.0</text>
<rect x="1266.6" y="1772.5" width="85" height="9" fill="#000000"/>
<text transform="matrix(0.59200 0 0 0.56500 1361.56 1796.44)" style="font-family:&quot;Liberation Sans&quot;,sans-serif" font-size="100" fill="#141414">1.1</text>
<rect x="1266.6" y="1834.5" width="85" height="9" fill="#0000ff"/>
<text transform="matrix(0.59200 0 0 0.56500 1361.56 1858.44)" style="font-family:&quot;Liberation Sans&quot;,sans-serif" font-size="100" fill="#141414">1.2</text>
<rect x="1266.6" y="1900.5" width="85" height="9" fill="#ff00ff"/>
<text transform="matrix(0.59200 0 0 0.56500 1361.56 1924.44)" style="font-family:&quot;Liberation Sans&quot;,sans-serif" font-size="100" fill="#141414">1.3</text>
<rect x="1266.6" y="1963.5" width="85" height="9" fill="#00ff00"/>
<text transform="matrix(0.59200 0 0 0.56500 1361.56 1987.44)" style="font-family:&quot;Liberation Sans&quot;,sans-serif" font-size="100" fill="#141414">1.4</text>
</svg>
</body></html>
